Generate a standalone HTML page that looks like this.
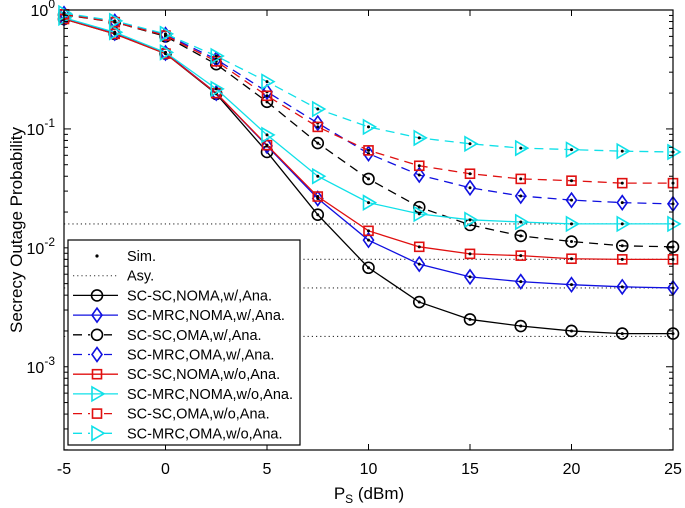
<!DOCTYPE html>
<html><head><meta charset="utf-8"><style>
html,body{margin:0;padding:0;background:#fff;}
svg{display:block;font-family:"Liberation Sans",Arial,sans-serif;}
</style></head><body>
<svg id="chart" width="685" height="508" viewBox="0 0 685 508">
<g id="plot"></g>
</svg>
<script>
const xValues = [-5,-2.5,0,2.5,5,7.5,10,12.5,15,17.5,20,22.5,25];
const xTicks = [-5,0,5,10,15,20,25];
const yTickExps = [0,-1,-2,-3];
const scNomaW = [0.84,0.63,0.43,0.197,0.064,0.019,0.0068,0.0035,0.0025,0.0022,0.002,0.0019,0.0019];
const mrcNomaW = [0.85,0.64,0.435,0.2,0.072,0.026,0.0116,0.0073,0.0057,0.0052,0.0049,0.0047,0.0046];
const scOmaW = [0.91,0.79,0.6,0.35,0.169,0.076,0.038,0.022,0.0156,0.0126,0.0113,0.0104,0.0102];
const mrcOmaW = [0.93,0.8,0.62,0.385,0.205,0.112,0.062,0.041,0.032,0.0273,0.0252,0.024,0.0234];
const scNomaWo = [0.84,0.63,0.43,0.2,0.073,0.027,0.0139,0.0102,0.0089,0.0086,0.0081,0.008,0.008];
const mrcNomaWo = [0.86,0.65,0.44,0.217,0.089,0.04,0.024,0.0193,0.0172,0.0165,0.0159,0.0159,0.0159];
const scOmaWo = [0.92,0.79,0.61,0.37,0.19,0.104,0.066,0.049,0.042,0.038,0.0367,0.035,0.035];
const mrcOmaWo = [0.94,0.81,0.63,0.41,0.25,0.147,0.104,0.084,0.075,0.069,0.067,0.065,0.064];
const asyValues = [0.0018,0.0046,0.008,0.0159];

const L=64,R=673,T=10,B=450;
const X0=-5,X1=25,YTOP=0,YBOT=-3.7;
const sx=v=>L+(v-X0)/(X1-X0)*(R-L);
const sy=v=>T+(YTOP-Math.log10(v))/(YTOP-YBOT)*(B-T);
const NS='http://www.w3.org/2000/svg';
const svg=document.getElementById('chart');
function mk(tag,attrs,parent){const e=document.createElementNS(NS,tag);for(const k in attrs)e.setAttribute(k,attrs[k]);(parent||svg).appendChild(e);return e;}

asyValues.forEach((v,i)=>{
  const l=mk('line',{x1:L,x2:R,y1:sy(v),y2:sy(v),stroke:'#333','stroke-width':1.1,'stroke-dasharray':'1.2,3'});
  
  
});

function marker(g,type,x,y,color){
  let e;
  if(type==='o') e=mk('circle',{cx:x,cy:y,r:5.5,fill:'none',stroke:color,'stroke-width':1.6},g);
  else if(type==='d') e=mk('polygon',{points:`${x},${y-7} ${x+5},${y} ${x},${y+7} ${x-5},${y}`,fill:'none',stroke:color,'stroke-width':1.6},g);
  else if(type==='s') e=mk('rect',{x:x-4.5,y:y-4.5,width:9,height:9,fill:'none',stroke:color,'stroke-width':1.6},g);
  else e=mk('polygon',{points:`${x-5},${y-7} ${x+7},${y} ${x-5},${y+7}`,fill:'none',stroke:color,'stroke-width':1.6},g);
  return e;
}
const series=[
 {name:'SC-SC,NOMA,w/,Ana.',d:scNomaW,c:'#000',m:'o',dash:null},
 {name:'SC-MRC,NOMA,w/,Ana.',d:mrcNomaW,c:'#1010e0',m:'d',dash:null},
 {name:'SC-SC,OMA,w/,Ana.',d:scOmaW,c:'#000',m:'o',dash:'9,6'},
 {name:'SC-MRC,OMA,w/,Ana.',d:mrcOmaW,c:'#1010e0',m:'d',dash:'9,6'},
 {name:'SC-SC,NOMA,w/o,Ana.',d:scNomaWo,c:'#e01010',m:'s',dash:null},
 {name:'SC-MRC,NOMA,w/o,Ana.',d:mrcNomaWo,c:'#10e0e8',m:'t',dash:null},
 {name:'SC-SC,OMA,w/o,Ana.',d:scOmaWo,c:'#e01010',m:'s',dash:'9,6'},
 {name:'SC-MRC,OMA,w/o,Ana.',d:mrcOmaWo,c:'#10e0e8',m:'t',dash:'9,6'}
];
series.forEach((s,si)=>{
  const g=mk('g',{});
  
  
  const pts=s.d.map((v,i)=>sx(xValues[i])+','+sy(v)).join(' ');
  const pl=mk('polyline',{points:pts,fill:'none',stroke:s.c,'stroke-width':1.3},g);
  if(s.dash)pl.setAttribute('stroke-dasharray',s.dash);
  s.d.forEach((v,i)=>{
    const m=marker(g,s.m,sx(xValues[i]),sy(v),s.c);
    
    
    const dot=mk('circle',{cx:sx(xValues[i]),cy:sy(v),r:1.5,fill:'#000'},g);
    
    
  });
});

const box=mk('rect',{x:L,y:T,width:R-L,height:B-T,fill:'none',stroke:'#000','stroke-width':1.2});


xTicks.forEach(v=>{
  const x=sx(v);
  mk('line',{x1:x,x2:x,y1:B,y2:B-6,stroke:'#000'});
  mk('line',{x1:x,x2:x,y1:T,y2:T+6,stroke:'#000'});
  const t=mk('text',{x:x,y:B+24,'text-anchor':'middle','font-size':16});
  t.textContent=v;
  
  
});
yTickExps.forEach(e=>{
  const y=sy(Math.pow(10,e));
  mk('line',{x1:L,x2:L+7,y1:y,y2:y,stroke:'#000'});
  mk('line',{x1:R,x2:R-7,y1:y,y2:y,stroke:'#000'});
  const t=mk('text',{x:L-9,y:y+6,'text-anchor':'end','font-size':16});
  t.innerHTML='10<tspan dy="-8" font-size="12">'+e+'</tspan>';
  
  
  for(let k=2;k<=9;k++){
    const v=k*Math.pow(10,e-1);
    if(Math.log10(v)<YBOT)continue;
    const yy=sy(v);
    mk('line',{x1:L,x2:L+4,y1:yy,y2:yy,stroke:'#000'});
    mk('line',{x1:R,x2:R-4,y1:yy,y2:yy,stroke:'#000'});
  }
});
const xl=mk('text',{x:369,y:499,'text-anchor':'middle','font-size':17});
xl.innerHTML='P<tspan dy="4" font-size="12">S</tspan><tspan dy="-4"> (dBm)</tspan>';


const yl=mk('text',{x:0,y:0,'text-anchor':'middle','font-size':17,transform:'translate(22,230) rotate(-90)'});
yl.textContent='Secrecy Outage Probability';



const lg=mk('g',{});


mk('rect',{x:68,y:240,width:232,height:205,fill:'#fff',stroke:'#000','stroke-width':1.2},lg);
const ent=[{name:'Sim.',type:'sim'},{name:'Asy.',type:'asy'}].concat(series);
ent.forEach((s,i)=>{
  const y=256+i*19.7;
  const g=mk('g',{},lg);
  
  
  if(s.type==='sim'){mk('circle',{cx:97,cy:y,r:1.6,fill:'#000'},g);}
  else if(s.type==='asy'){mk('line',{x1:73,x2:118,y1:y,y2:y,stroke:'#333','stroke-dasharray':'1.2,3'},g);}
  else{
    const l=mk('line',{x1:73,x2:118,y1:y,y2:y,stroke:s.c,'stroke-width':1.3},g);
    if(s.dash)l.setAttribute('stroke-dasharray','9,6');
    mk('rect',{x:90,y:y-7,width:14,height:14,fill:s.dash?'#fff':'none'},g);
    marker(g,s.m,97,y,s.c);
  }
  const t=mk('text',{x:127,y:y+5,'font-size':14.5},g);
  t.textContent=s.name;
});
</script>
</body></html>
